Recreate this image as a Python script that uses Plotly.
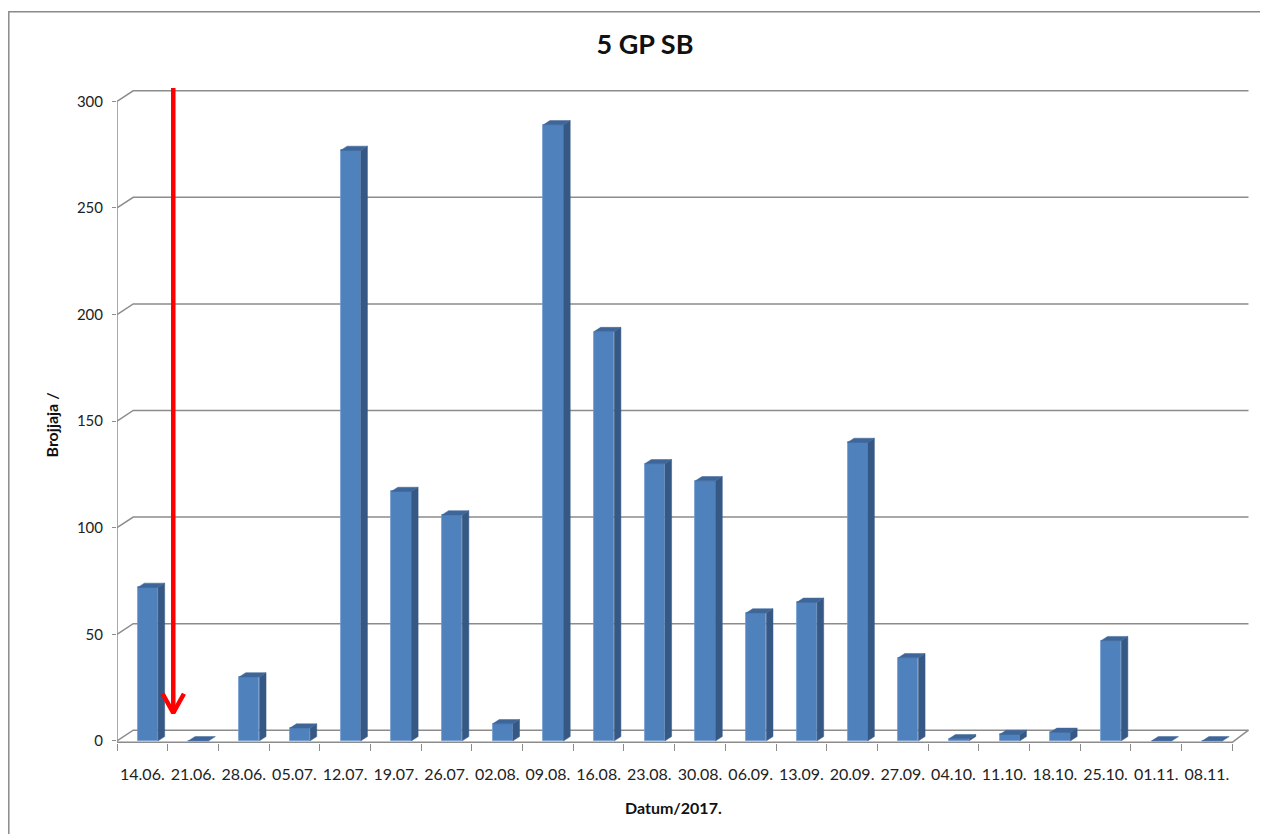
import plotly.graph_objects as go

# ---------------- data ----------------
dates = ["14.06.", "21.06.", "28.06.", "05.07.", "12.07.", "19.07.", "26.07.", "02.08.",
         "09.08.", "16.08.", "23.08.", "30.08.", "06.09.", "13.09.", "20.09.", "27.09.",
         "04.10.", "11.10.", "18.10.", "25.10.", "01.11.", "08.11."]
eggs = [72, 0, 30, 6, 277, 117, 106, 8, 289, 192, 130, 122, 60, 65, 140, 39,
        1, 3, 4, 47, 0, 0]
y_ticks = [0, 50, 100, 150, 200, 250, 300]

title_text = "5 GP SB"
x_title = "Datum/2017."
y_title = "Brojjaja /"

# ---------------- geometry / style ----------------
W, H = 1268, 834
OFF = 8                      # page body margin (screen px -> figure px)
ML, MR, MT, MB = 109, 27, 77, 99
X_RANGE = [-0.5, 21.83]
Y_RANGE = [-1.0, 307.7]
FLOOR = -0.7

BAR_OFF = 0.11      # front face shift right of category centre
BAR_W = 0.40        # front face width
DEPTH_X = 0.13      # bar depth (x, category units)
DEPTH_Y = 2.0       # bar depth (y, value units)
WALL_X = 0.32       # back wall offset
WALL_Y = 5.0

FRONT = "#4F81BD"
SIDE = "#365884"
TOP = "#3F6699"
GRID = "#8C8C8C"
FONT = "Lato"

pw = W - ML - MR
ph = H - MT - MB


def xp(px):
    """screen x pixel -> paper coordinate"""
    return (px - OFF - ML) / pw


def yp(py):
    """screen y pixel -> paper coordinate"""
    return (H - MB - (py - OFF)) / ph


n = len(dates)
xs = list(range(n))

fig = go.Figure()

# front faces
fig.add_trace(go.Bar(
    x=[i + BAR_OFF for i in xs], y=eggs, width=BAR_W,
    marker=dict(color=FRONT, line=dict(color="#6F98CC", width=0.8)),
    hoverinfo="skip", showlegend=False,
))

# side faces and top faces
sx, sy, tx, ty = [], [], [], []
for i, v in zip(xs, eggs):
    x0 = i + BAR_OFF - BAR_W / 2
    x1 = i + BAR_OFF + BAR_W / 2
    if v > 0:
        sx += [x1, x1 + DEPTH_X, x1 + DEPTH_X, x1, x1, None]
        sy += [0, DEPTH_Y, v + DEPTH_Y, v, 0, None]
    tx += [x0, x1, x1 + DEPTH_X, x0 + DEPTH_X, x0, None]
    ty += [v, v, v + DEPTH_Y, v + DEPTH_Y, v, None]

fig.add_trace(go.Scatter(x=sx, y=sy, mode="lines", fill="toself", fillcolor=SIDE,
                         line=dict(color=SIDE, width=0.5), hoverinfo="skip",
                         showlegend=False))
fig.add_trace(go.Scatter(x=tx, y=ty, mode="lines", fill="toself", fillcolor=TOP,
                         line=dict(color=TOP, width=0.5), hoverinfo="skip",
                         showlegend=False))

# red arrow annotation
ARROW_X = 0.61
ARROW_TOP = 306.3
ARROW_TIP = 13.1
HEAD_DX = 0.21
HEAD_DY = 9.0
fig.add_trace(go.Scatter(
    x=[ARROW_X, ARROW_X, None, ARROW_X - HEAD_DX, ARROW_X, ARROW_X + HEAD_DX],
    y=[ARROW_TOP, ARROW_TIP, None, ARROW_TIP + HEAD_DY, ARROW_TIP, ARROW_TIP + HEAD_DY],
    mode="lines", line=dict(color="#FF0000", width=4.5), hoverinfo="skip",
    showlegend=False,
))

shapes = []
# back wall gridlines with left diagonal
for v in y_ticks:
    shapes.append(dict(
        type="path", xref="x", yref="y", layer="below",
        path=f"M {X_RANGE[0]},{v} L {X_RANGE[0] + WALL_X},{v + WALL_Y} "
             f"L {n - 0.5 + WALL_X},{v + WALL_Y}",
        line=dict(color=GRID, width=1.5),
    ))
# floor front edge and right diagonal
shapes.append(dict(
    type="path", xref="x", yref="y", layer="below",
    path=f"M {X_RANGE[0]},{FLOOR} L {n - 0.5},{FLOOR} L {n - 0.5 + WALL_X},{WALL_Y}",
    line=dict(color=GRID, width=1.5),
))
# front value axis line
shapes.append(dict(
    type="line", xref="x", yref="y", layer="below",
    x0=X_RANGE[0], x1=X_RANGE[0], y0=FLOOR, y1=y_ticks[-1],
    line=dict(color=GRID, width=1.5),
))
# outer chart border
shapes.append(dict(
    type="rect", xref="paper", yref="paper",
    x0=xp(8.8), x1=xp(W + 60), y0=yp(H + 60), y1=yp(11.8),
    line=dict(color="#8A8A8A", width=1.5), fillcolor="rgba(0,0,0,0)",
))

annotations = [
    dict(text=y_title, x=xp(51), y=yp(425.5), xref="paper", yref="paper",
         textangle=-90, showarrow=False, xanchor="center", yanchor="middle",
         font=dict(family=FONT, size=16, color="#111", weight="bold")),
    dict(text=x_title, x=xp(673), y=yp(807), xref="paper", yref="paper",
         showarrow=False, xanchor="center", yanchor="middle",
         font=dict(family=FONT, size=16, color="#111", weight="bold")),
]

fig.update_layout(
    width=W, height=H,
    margin=dict(l=ML, r=MR, t=MT, b=MB, pad=0),
    paper_bgcolor="white", plot_bgcolor="white",
    title=dict(text=title_text, x=(645 - OFF) / W, y=1 - (44.7 - OFF) / H,
               xref="container", yref="container", xanchor="center",
               yanchor="middle",
               font=dict(family=FONT, size=27, color="#111", weight="bold")),
    xaxis=dict(range=X_RANGE, tickmode="array", tickvals=xs, ticktext=dates,
               ticks="", showgrid=False, zeroline=False, showline=False,
               ticklabelstandoff=20,
               tickfont=dict(family=FONT, size=16, color="#222"),
               minor=dict(tickmode="linear", tick0=-0.5, dtick=1, ticks="outside",
                          ticklen=7, tickwidth=1.3, tickcolor=GRID, showgrid=False)),
    yaxis=dict(range=Y_RANGE, tickmode="array", tickvals=y_ticks,
               ticks="outside", ticklen=4, tickwidth=1.3, tickcolor=GRID,
               showgrid=False, zeroline=False, showline=False,
               ticklabelstandoff=6,
               tickfont=dict(family=FONT, size=15, color="#222")),
    shapes=shapes, annotations=annotations,
    bargap=0, showlegend=False,
)

fig.write_html("out.html")
